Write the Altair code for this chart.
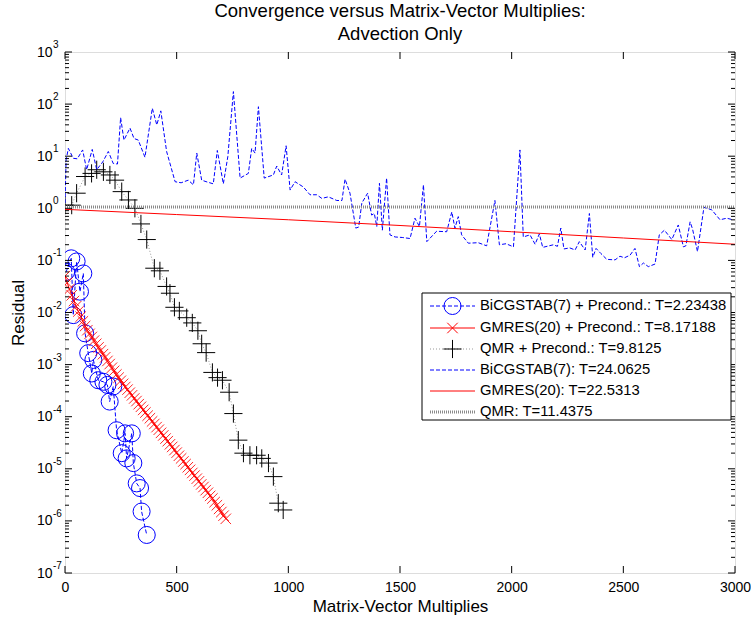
import altair as alt
import pandas as pd

W, H = 670, 521
FONT = "Liberation Sans"

# ---- BiCGSTAB(7) + Precond. (log10 residual) ----
bp_x = [5, 28, 37, 52, 67, 82, 90, 104, 120, 127, 149, 172, 190, 200, 216, 231,
        254, 269, 276, 299, 306, 321, 336, 343, 366]
bp_log = [-1.22, -0.96, -2.05, -1.02, -1.60, -1.25, -2.40, -2.78, -3.17, -2.91,
          -3.30, -3.33, -3.39, -3.71, -3.42, -4.26, -4.70, -4.32, -4.80, -4.32,
          -4.89, -5.28, -5.37, -5.82, -6.27]

# ---- GMRES(20) + Precond. ----
gp_x = [0, 10, 20, 30, 40, 50, 60, 70, 80, 90, 100, 110, 120, 130, 140, 150, 160,
        170, 180, 190, 200, 210, 220, 230, 240, 250, 260, 270, 280, 290, 300, 310,
        320, 330, 340, 350, 360, 370, 380, 390, 400, 410, 420, 430, 440, 450, 460,
        470, 480, 490, 500, 510, 520, 530, 540, 550, 560, 570, 580, 590, 600, 610,
        620, 630, 640, 650, 660, 670, 680, 690, 700, 710, 720]
gp_log = [-1.30, -1.43, -1.55, -1.67, -1.78, -1.88, -1.98, -2.08, -2.17, -2.26,
          -2.34, -2.41, -2.47, -2.54, -2.60, -2.67, -2.73, -2.80, -2.86, -2.93,
          -2.99, -3.06, -3.12, -3.19, -3.25, -3.31, -3.37, -3.43, -3.48, -3.54,
          -3.59, -3.65, -3.70, -3.76, -3.81, -3.87, -3.92, -3.98, -4.03, -4.09,
          -4.14, -4.20, -4.25, -4.31, -4.36, -4.42, -4.47, -4.53, -4.58, -4.64,
          -4.69, -4.75, -4.80, -4.86, -4.91, -4.97, -5.02, -5.08, -5.13, -5.19,
          -5.24, -5.30, -5.35, -5.41, -5.46, -5.52, -5.57, -5.64, -5.70, -5.77,
          -5.83, -5.90, -5.96]

# ---- QMR + Precond. ----
qp_x = [0, 30, 52, 90, 119, 142, 172, 201, 224, 254, 284, 313, 340, 366, 400, 425,
        455, 470, 490, 512, 545, 570, 595, 612, 632, 660, 683, 705, 735, 754, 776,
        799, 828, 858, 881, 911, 933, 955, 977]
qp_log = [0.06, 0.06, 0.29, 0.61, 0.67, 0.74, 0.70, 0.64, 0.54, 0.32, 0.16, 0.0,
          -0.30, -0.60, -1.15, -1.20, -1.50, -1.63, -1.90, -1.97, -2.10, -2.20,
          -2.35, -2.60, -2.77, -3.15, -3.25, -3.30, -3.53, -3.94, -4.45, -4.70,
          -4.74, -4.74, -4.80, -4.89, -5.15, -5.66, -5.79]

# ---- BiCGSTAB(7) ----
bu_x = [0, 5, 15, 37, 55, 79, 97, 122, 142, 169, 194, 216, 235, 249, 264, 291, 309,
        328, 358, 391, 411, 429, 455, 493, 520, 552, 575, 590, 612, 640, 664, 682,
        709, 729, 754, 784, 821, 836, 851, 866, 892, 933, 948, 970, 990, 1008, 1030,
        1067, 1097, 1127, 1150, 1179, 1217, 1240, 1254, 1276, 1302, 1315, 1329,
        1355, 1373, 1385, 1396, 1408, 1421, 1440, 1455, 1478, 1510, 1545, 1567,
        1587, 1605, 1620, 1664, 1709, 1732, 1746, 1761, 1776, 1806, 1850, 1888,
        1925, 1945, 1975, 2008, 2037, 2052, 2082, 2105, 2124, 2139, 2187, 2205,
        2220, 2234, 2260, 2284, 2303, 2329, 2348, 2363, 2378, 2400, 2426, 2463,
        2485, 2505, 2530, 2552, 2572, 2590, 2612, 2642, 2661, 2684, 2717, 2746,
        2769, 2780, 2799, 2810, 2832, 2861, 2896, 2933, 2963, 2990]
bu_log = [0.10, 0.93, 1.15, 0.96, 0.95, 1.12, 0.74, 1.13, 0.74, 0.89, 1.09, 0.86,
          0.85, 1.74, 1.31, 1.54, 1.34, 1.31, 0.98, 1.92, 1.60, 1.87, 1.09, 0.51,
          0.49, 0.54, 0.45, 1.06, 0.54, 0.50, 0.47, 1.11, 0.47, 0.99, 2.24, 0.58,
          0.67, 1.15, 1.06, 1.95, 0.58, 0.64, 0.81, 0.64, 1.20, 0.35, 0.51, 0.41,
          0.26, 0.26, 0.19, 0.22, 0.15, 0.15, 0.56, 0.29, -0.38, -0.36, 0.10, 0.29,
          -0.13, -0.10, -0.35, 0.48, -0.42, 0.58, -0.51, -0.55, -0.56, -0.58, -0.19,
          -0.35, 0.45, -0.64, -0.44, -0.45, -0.07, -0.38, -0.16, -0.51, -0.67, -0.66,
          -0.72, 0.15, -0.70, -0.68, -0.74, 1.12, -0.55, -0.51, -0.69, -0.49, -0.75,
          -0.70, -0.73, -0.38, -0.78, -0.76, -0.80, -0.64, -0.80, -0.10, -0.94,
          -0.77, -0.87, -0.98, -0.99, -0.92, -0.95, -0.90, -0.77, -1.12, -1.05,
          -1.12, -1.07, -0.51, -0.42, -0.60, -0.32, -0.74, -0.72, -0.26, -0.40,
          -0.83, 0.02, -0.03, -0.22, -0.19, -0.22]

# ---- GMRES(20) ----
gu_x = [0, 500, 1000, 1500, 2000, 2500, 3000]
gu_log = [-0.02, -0.12, -0.22, -0.33, -0.45, -0.57, -0.69]

# ---- QMR ----
qu_x = [0, 3000]
qu_log = [0.025, 0.025]

legend_labels = [
    "BiCGSTAB(7) + Precond.: T=2.23438",
    "GMRES(20) + Precond.: T=8.17188",
    "QMR + Precond.: T=9.8125",
    "BiCGSTAB(7): T=24.0625",
    "GMRES(20): T=22.5313",
    "QMR: T=11.4375",
]

x_ticks = [0, 500, 1000, 1500, 2000, 2500, 3000]
y_exps = list(range(-7, 4))


def frame(x, lg):
    return pd.DataFrame({"x": x, "r": [10.0 ** v for v in lg]})


XS = alt.Scale(domain=[0, 3000], nice=False, zero=False)
YS = alt.Scale(type="log", domain=[1e-7, 1e3], nice=False)
XA = alt.Axis(values=x_ticks, format="d", title="Matrix-Vector Multiplies", grid=False,
              ticks=False, tickSize=0, domain=False, labelFontSize=14,
              labelFont=FONT, labelPadding=7, labelColor="black", labelFlush=False,
              labelOverlap=False, labelBound=False,
              titleFont=FONT, titleFontSize=17, titleFontWeight="normal",
              titlePadding=4, titleColor="black")
YA = alt.Axis(values=[10.0 ** e for e in y_exps], labelExpr="'10'",
              title="Residual", grid=False, ticks=False, tickSize=0, domain=False,
              labelFontSize=14, labelFont=FONT, labelPadding=13, labelFlush=False,
              labelOverlap=False,
              labelColor="black", titleFont=FONT, titleFontSize=17,
              titleFontWeight="normal", titlePadding=9, titleColor="black")


def X():
    return alt.X("x:Q", scale=XS, axis=XA)


def Y():
    return alt.Y("r:Q", scale=YS, axis=YA)


BLUE = "#0000ff"
RED = "#ff0000"
GRAY = "#8a8a8a"
X_PATH = "M-1,-1L1,1M-1,1L1,-1"
PLUS_PATH = "M-1,0L1,0M0,-1L0,1"

layers = []

# data series, drawn in plotting order
dbp = frame(bp_x, bp_log)
layers.append(alt.Chart(dbp).mark_line(color=BLUE, strokeWidth=1, strokeDash=[4, 2], clip=True)
              .encode(x=X(), y=Y()))
layers.append(alt.Chart(dbp).mark_point(shape="circle", size=290, color=BLUE, filled=False,
                                        strokeWidth=1, opacity=1, clip=True)
              .encode(x=X(), y=Y()))

dgp = frame(gp_x, gp_log)
layers.append(alt.Chart(dgp).mark_line(color=RED, strokeWidth=1, clip=True).encode(x=X(), y=Y()))
layers.append(alt.Chart(dgp).mark_point(shape=X_PATH, size=110, color=RED, filled=False,
                                        strokeWidth=1, opacity=0.85, clip=True)
              .encode(x=X(), y=Y()))

dqp = frame(qp_x, qp_log)
layers.append(alt.Chart(dqp).mark_line(color="#999999", strokeWidth=1, strokeDash=[1, 2], clip=True)
              .encode(x=X(), y=Y()))
layers.append(alt.Chart(dqp).mark_point(shape=PLUS_PATH, size=330, color="black", filled=False,
                                        strokeWidth=1, opacity=1, clip=True)
              .encode(x=X(), y=Y()))

layers.append(alt.Chart(frame(bu_x, bu_log)).mark_line(color=BLUE, strokeWidth=1,
                                                      strokeDash=[4, 2], clip=True)
              .encode(x=X(), y=Y()))
layers.append(alt.Chart(frame(gu_x, gu_log)).mark_line(color=RED, strokeWidth=1, clip=True)
              .encode(x=X(), y=Y()))
layers.append(alt.Chart(frame(qu_x, qu_log)).mark_line(color=GRAY, strokeWidth=3,
                                                      strokeDash=[1, 1], clip=True)
              .encode(x=X(), y=Y()))

# inward ticks (MATLAB style)
dxt = pd.DataFrame({"x": x_ticks})
for y0, y1 in [(H, H - 7), (0, 7)]:
    layers.append(alt.Chart(dxt).mark_rule(color="black", strokeWidth=1)
                  .encode(x=alt.X("x:Q", scale=XS, axis=XA), y=alt.value(y0), y2=alt.value(y1)))

dmaj = pd.DataFrame({"r": [10.0 ** e for e in y_exps]})
dmin = pd.DataFrame({"r": [m * 10.0 ** e for e in range(-7, 3) for m in range(2, 10)]})
for d, ln in [(dmaj, 7), (dmin, 4)]:
    for x0, x1 in [(0, ln), (W, W - ln)]:
        layers.append(alt.Chart(d).mark_rule(color="black", strokeWidth=1)
                      .encode(y=alt.Y("r:Q", scale=YS, axis=YA), x=alt.value(x0), x2=alt.value(x1)))

# exponents of the 10^n labels
dexp = pd.DataFrame({"r": [10.0 ** e for e in y_exps], "t": [str(e) for e in y_exps]})
layers.append(alt.Chart(dexp).mark_text(align="left", baseline="middle", fontSize=10, font=FONT,
                                        color="black", dy=-7)
              .encode(y=alt.Y("r:Q", scale=YS, axis=YA), x=alt.value(-12), text="t:N"))

# legend (layout in pixels of the plot area)
one = pd.DataFrame({"a": [0]})
LX0, LX1 = 357, 666
LY0, LY1 = 241, 368
rows = [254, 276, 297, 318, 339, 360]
layers.append(alt.Chart(one).mark_rect(fill="white", stroke="black", strokeWidth=1)
              .encode(x=alt.value(LX0), x2=alt.value(LX1), y=alt.value(LY0), y2=alt.value(LY1)))
line_styles = [
    dict(color=BLUE, strokeWidth=1, strokeDash=[4, 2]),
    dict(color=RED, strokeWidth=1),
    dict(color="#999999", strokeWidth=1, strokeDash=[1, 2]),
    dict(color=BLUE, strokeWidth=1, strokeDash=[4, 2]),
    dict(color=RED, strokeWidth=1),
    dict(color=GRAY, strokeWidth=3, strokeDash=[1, 1]),
]
markers = [
    dict(shape="circle", size=290, color=BLUE),
    dict(shape=X_PATH, size=110, color=RED),
    dict(shape=PLUS_PATH, size=330, color="black"),
    None, None, None,
]
for i, lab in enumerate(legend_labels):
    yy = rows[i]
    layers.append(alt.Chart(one).mark_rule(**line_styles[i])
                  .encode(x=alt.value(365), x2=alt.value(410), y=alt.value(yy)))
    if markers[i]:
        layers.append(alt.Chart(one).mark_point(filled=False, strokeWidth=1, opacity=1, **markers[i])
                      .encode(x=alt.value(387.5), y=alt.value(yy)))
    layers.append(alt.Chart(one).mark_text(align="left", baseline="middle", fontSize=14.8, font=FONT,
                                           color="black")
                  .encode(x=alt.value(415), y=alt.value(yy), text=alt.value(lab)))

chart = alt.layer(*layers).properties(
    width=W, height=H,
    title=alt.TitleParams(["Convergence versus Matrix-Vector Multiplies:", "Advection Only"],
                          fontSize=18.5, font=FONT, fontWeight="normal", color="black",
                          anchor="middle", frame="group", offset=10, dy=13, lineHeight=23),
    autosize=alt.AutoSizeParams(type="none"),
    padding={"left": 65, "top": 52, "right": 16, "bottom": 50},
).configure_view(stroke="black", strokeWidth=1).configure(background="white")

chart.save("out.html", embed_options={"renderer": "svg", "actions": False})
